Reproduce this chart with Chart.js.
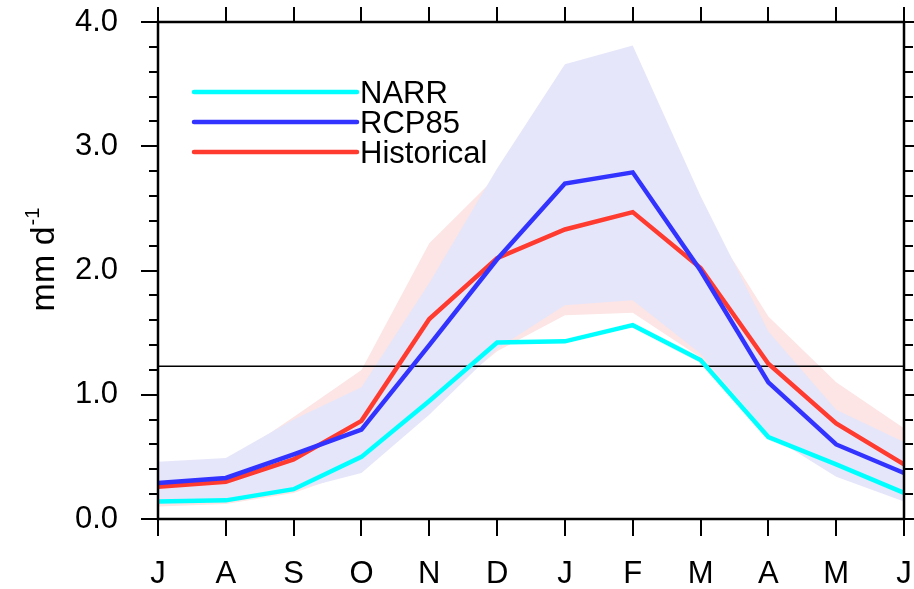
<!DOCTYPE html>
<html>
<head>
<meta charset="utf-8">
<script src="https://cdn.jsdelivr.net/npm/chart.js@4.4.0/dist/chart.umd.min.js"></script>
<style>
  html, body { margin: 0; padding: 0; background: #fff; }
</style>
</head>
<body>
<canvas id="chart" width="914" height="589"></canvas>
<script>
// --- DATA ---
const months = ['J', 'A', 'S', 'O', 'N', 'D', 'J', 'F', 'M', 'A', 'M', 'J'];
const narr       = [0.14, 0.15, 0.24, 0.50, 0.95, 1.42, 1.43, 1.56, 1.28, 0.66, 0.44, 0.21];
const rcp85      = [0.29, 0.33, 0.52, 0.72, 1.40, 2.09, 2.70, 2.79, 2.00, 1.10, 0.60, 0.37];
const historical = [0.26, 0.30, 0.48, 0.79, 1.61, 2.10, 2.33, 2.47, 2.02, 1.25, 0.77, 0.44];
const rcp85Upper = [0.46, 0.49, 0.80, 1.06, 1.90, 2.82, 3.66, 3.81, 2.60, 1.51, 0.88, 0.62];
const rcp85Lower = [0.13, 0.15, 0.23, 0.37, 0.84, 1.37, 1.72, 1.76, 1.33, 0.68, 0.34, 0.14];
const histUpper  = [0.40, 0.45, 0.82, 1.20, 2.22, 2.76, 3.00, 3.20, 2.50, 1.63, 1.10, 0.73];
const histLower  = [0.10, 0.12, 0.21, 0.40, 0.90, 1.35, 1.64, 1.66, 1.30, 0.70, 0.40, 0.20];
const refLevel = 1.23;
const yMin = 0, yMax = 4, majorStep = 1, minorStep = 0.2;

const FONT = '"Liberation Sans", Arial, Helvetica, sans-serif';
const lineStyle = { pointRadius: 0, borderWidth: 4.5, fill: false, tension: 0 };
const bandStyle = { pointRadius: 0, borderWidth: 0, borderColor: 'transparent', tension: 0 };

// keep the plot box where the reference has it
function noScalePad(s) {
  s.paddingLeft = 0; s.paddingRight = 0; s.paddingTop = 0; s.paddingBottom = 0;
}

// --- FRAME + TICKS + LEGEND ---
const framePlugin = {
  id: 'frame',
  afterDatasetsDraw(chart) {
    const { ctx, chartArea: a, scales: { x, y } } = chart;
    ctx.save();
    ctx.strokeStyle = '#000';
    ctx.lineWidth = 2;
    ctx.beginPath();
    const n = Math.round((yMax - yMin) / minorStep);
    for (let i = 0; i <= n; i++) {
      const py = Math.round(y.getPixelForValue(yMin + i * minorStep));
      const major = i % Math.round(majorStep / minorStep) === 0;
      ctx.moveTo(a.left - (major ? 17 : 9), py); ctx.lineTo(a.left, py);
      ctx.moveTo(a.right, py); ctx.lineTo(a.right + (major ? 10 : 9), py);
    }
    months.forEach((m, i) => {
      const px = Math.round(x.getPixelForValue(i));
      ctx.moveTo(px, a.top - 15); ctx.lineTo(px, a.top);
      ctx.moveTo(px, a.bottom); ctx.lineTo(px, a.bottom + 17);
    });
    ctx.stroke();
    ctx.lineWidth = 2.5;
    ctx.strokeRect(a.left, a.top, a.right - a.left, a.bottom - a.top);
    ctx.restore();
  },
  afterDraw(chart) {
    const { ctx } = chart;
    ctx.save();
    // legend
    chart.data.datasets.slice(0, 3).forEach((ds, i) => {
      const ly = 92 + i * 30;
      ctx.strokeStyle = ds.borderColor;
      ctx.lineWidth = 4.5;
      ctx.lineCap = 'round';
      ctx.beginPath(); ctx.moveTo(194, ly); ctx.lineTo(357, ly); ctx.stroke();
      ctx.fillStyle = '#000';
      ctx.font = '31px ' + FONT;
      ctx.textBaseline = 'alphabetic';
      ctx.textAlign = 'left';
      ctx.fillText(ds.label, 360, ly + 11);
    });
    // y title: mm d^-1
    ctx.translate(54, 260);
    ctx.rotate(-Math.PI / 2);
    ctx.font = '34px ' + FONT;
    const w1 = ctx.measureText('mm d').width;
    ctx.font = '20px ' + FONT;
    const w2 = ctx.measureText('-1').width;
    const x0 = -(w1 + w2) / 2;
    ctx.fillStyle = '#000';
    ctx.textBaseline = 'alphabetic';
    ctx.textAlign = 'left';
    ctx.font = '34px ' + FONT;
    ctx.fillText('mm d', x0, 0);
    ctx.font = '20px ' + FONT;
    ctx.fillText('-1', x0 + w1 + 1, -15);
    ctx.restore();
  }
};

const ctx = document.getElementById('chart').getContext('2d');
const myChart = new Chart(ctx, {
  type: 'line',
  data: {
    labels: months,
    datasets: [
      { label: 'NARR', data: narr, borderColor: '#00ffff', order: 0, ...lineStyle },
      { label: 'RCP85', data: rcp85, borderColor: '#3333ff', order: 1, ...lineStyle },
      { label: 'Historical', data: historical, borderColor: '#ff3b30', order: 2, ...lineStyle },
      { label: 'ref', data: months.map(() => refLevel), borderColor: '#000', order: 3,
        pointRadius: 0, borderWidth: 1.5, fill: false },
      { label: 'RCP85 range', data: rcp85Upper, backgroundColor: '#e6e6fa', fill: '+1', order: 4, ...bandStyle },
      { label: 'RCP85 low', data: rcp85Lower, fill: false, order: 4, ...bandStyle },
      { label: 'Hist range', data: histUpper, backgroundColor: '#fce5e4', fill: '+1', order: 5, ...bandStyle },
      { label: 'Hist low', data: histLower, fill: false, order: 5, ...bandStyle }
    ]
  },
  options: {
    responsive: false,
    animation: false,
    devicePixelRatio: 1,
    layout: { padding: { top: 22, right: 10, left: 0, bottom: 0 } },
    plugins: { legend: { display: false }, tooltip: { enabled: false } },
    scales: {
      x: {
        type: 'category',
        offset: false,
        grid: { display: false, drawTicks: false },
        border: { display: false },
        ticks: { color: '#000', font: { family: FONT, size: 31 }, padding: 37, autoSkip: false, maxRotation: 0 },
        afterFit: (s) => { s.height = 70; noScalePad(s); }
      },
      y: {
        min: yMin, max: yMax,
        grid: { display: false, drawTicks: false },
        border: { display: false },
        ticks: { stepSize: majorStep, color: '#000', font: { family: FONT, size: 31 }, padding: 40,
                 callback: (v) => v.toFixed(1) },
        afterFit: (s) => { s.width = 158; noScalePad(s); }
      }
    }
  },
  plugins: [framePlugin]
});
</script>
</body>
</html>
